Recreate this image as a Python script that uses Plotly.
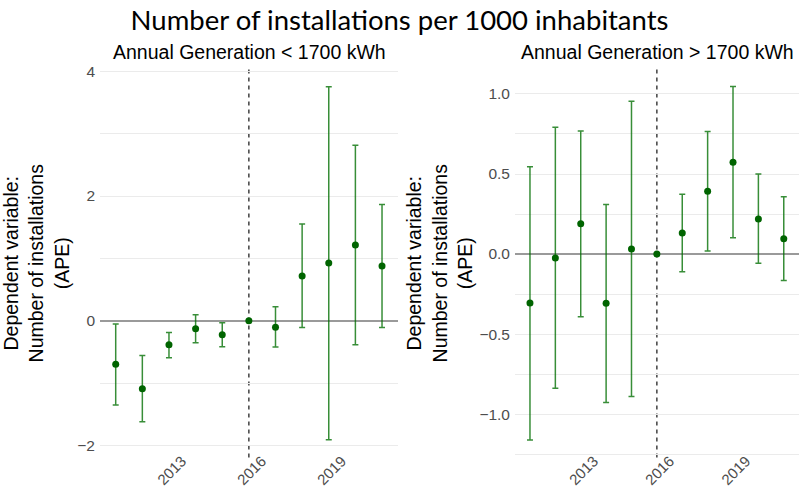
import math
import plotly.graph_objects as go

# Event-study estimates (APE) by year, 2016 is the reference year
years = [2011, 2012, 2013, 2014, 2015, 2016, 2017, 2018, 2019, 2020, 2021]

low_est = [-0.695, -1.09, -0.385, -0.128, -0.225, 0.0, -0.102, 0.717, 0.925, 1.214, 0.877]
low_lo = [-1.35, -1.62, -0.594, -0.353, -0.417, None, -0.422, -0.107, -1.909, -0.385, -0.107]
low_hi = [-0.053, -0.556, -0.187, 0.096, -0.032, None, 0.225, 1.551, 3.754, 2.813, 1.866]

high_est = [-0.306, -0.025, 0.19, -0.308, 0.031, 0.0, 0.131, 0.392, 0.573, 0.219, 0.096]
high_lo = [-1.161, -0.838, -0.392, -0.927, -0.89, None, -0.110, 0.019, 0.102, -0.058, -0.165]
high_hi = [0.546, 0.792, 0.769, 0.31, 0.954, None, 0.373, 0.765, 1.046, 0.5, 0.358]

year_ticks = [2013, 2016, 2019]
ref_year = 2016

title_text = "Number of installations per 1000 inhabitants"
panel_titles = ["Annual Generation < 1700 kWh", "Annual Generation > 1700 kWh"]
y_title = "Dependent variable:<br>Number of installations<br>(APE)"

W, H = 799, 486
POINT = "#006400"
BAR = "rgba(0,110,0,0.78)"
GRID = "#ebebeb"
YTICKFONT = dict(family="Liberation Sans", size=15.5, color="#4d4d4d")
XTICKFONT = dict(family="Liberation Sans", size=15, color="#4d4d4d")
YTITLEFONT = dict(family="Liberation Sans", size=19.5, color="black")


def err_arrays(est, lo, hi):
    plus = [(h - e) if h is not None else math.nan for e, h in zip(est, hi)]
    minus = [(e - l) if l is not None else math.nan for e, l in zip(est, lo)]
    return plus, minus


fig = go.Figure()
for i, (est, lo, hi) in enumerate([(low_est, low_lo, low_hi), (high_est, high_lo, high_hi)]):
    plus, minus = err_arrays(est, lo, hi)
    sfx = "" if i == 0 else "2"
    fig.add_trace(go.Scatter(
        x=years, y=est, mode="markers",
        marker=dict(color=POINT, size=7),
        error_y=dict(type="data", symmetric=False, array=plus, arrayminus=minus,
                     color=BAR, thickness=1.5, width=3),
        xaxis="x" + sfx, yaxis="y" + sfx, showlegend=False,
    ))
    fig.add_shape(type="line", x0=ref_year, x1=ref_year, y0=0, y1=1,
                  xref="x" + sfx, yref=("y" + sfx) + " domain",
                  line=dict(color="#333333", width=1.4, dash="4px,4px"), layer="below")

ydom = [1 - 457.5 / H, 1 - 69 / H]
xdom1 = [100 / W, 398 / W]
xdom2 = [515 / W, 799 / W]
# year labels sit a little higher than the panel's lower edge
xlabel_pos = 1 - 448.5 / H

xcommon = dict(range=[2010.41, 2021.6], tickvals=year_ticks, tickangle=-45,
               showgrid=False, zeroline=False, showline=False, ticks="",
               tickfont=XTICKFONT, ticklabelshift=13,
               anchor="free", position=xlabel_pos, automargin=False)
ycommon = dict(showgrid=True, gridcolor=GRID, gridwidth=1, zeroline=True,
               zerolinecolor="#9a9a9a", zerolinewidth=1.5, showline=False, ticks="",
               tickfont=YTICKFONT, ticklabelstandoff=4, automargin=False)

fig.update_layout(
    width=W, height=H, margin=dict(l=0, r=0, t=0, b=0, autoexpand=False),
    paper_bgcolor="white", plot_bgcolor="white",
    title=dict(text=title_text, x=0.5, xanchor="center", y=1 - 20 / H, yanchor="middle",
               font=dict(family="Lato", size=27.5, color="black")),
    xaxis=dict(domain=xdom1, **xcommon),
    xaxis2=dict(domain=xdom2, **xcommon),
    yaxis=dict(domain=ydom, anchor="x", range=[-2.192, 4.037], tickvals=[-2, 0, 2, 4],
               minor=dict(tickvals=[-1, 1, 3], showgrid=True, gridcolor=GRID, gridwidth=0.8),
               title=dict(text=y_title, font=YTITLEFONT, standoff=5),
               **ycommon),
    yaxis2=dict(domain=ydom, anchor="x2", range=[-1.271, 1.156],
                tickvals=[-1.0, -0.5, 0.0, 0.5, 1.0], tickformat=".1f",
                minor=dict(tickvals=[-1.25, -0.75, -0.25, 0.25, 0.75], showgrid=True,
                           gridcolor=GRID, gridwidth=0.8),
                title=dict(text=y_title, font=YTITLEFONT, standoff=1),
                **ycommon),
)

for cx, txt in zip([(xdom1[0] + xdom1[1]) / 2, (xdom2[0] + xdom2[1]) / 2], panel_titles):
    fig.add_annotation(text=txt, x=cx, y=1 - 52 / H, xref="paper", yref="paper",
                       xanchor="center", yanchor="middle", showarrow=False,
                       font=dict(family="Liberation Sans", size=19.5, color="black"))

fig.write_html("out.html")
